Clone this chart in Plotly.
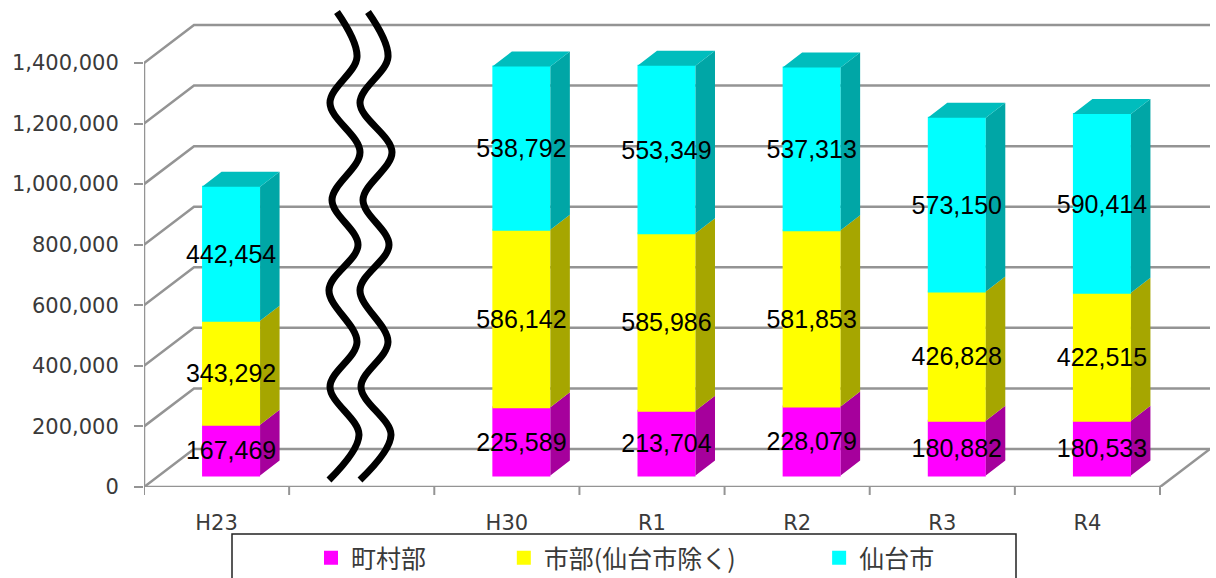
import plotly.graph_objects as go

categories = ["H23", "", "H30", "R1", "R2", "R3", "R4"]
towns = [167469, None, 225589, 213704, 228079, 180882, 180533]
cities = [343292, None, 586142, 585986, 581853, 426828, 422515]
sendai = [442454, None, 538792, 553349, 537313, 573150, 590414]
y_ticks = [0, 200000, 400000, 600000, 800000, 1000000, 1200000, 1400000]

series = [
    ("町村部" + "\u00a0" * 13, towns, "#FF00FF", "#A6009C"),
    ("市部(仙台市除く)" + "\u00a0" * 14, cities, "#FFFF00", "#A6A600"),
    ("仙台市", sendai, "#00FFFF", "#00A6A6"),
]

# wavy break marks (pixel positions)
wave_y = [12, 57, 103, 152, 200, 245, 290, 342, 387, 435, 480]
wave1_x = [337, 357, 330, 360, 332, 358, 329, 357, 330, 359, 329]
wave2_x = [368, 388, 360, 392, 363, 389, 360, 388, 361, 391, 360]

# the legend frame runs off the bottom of the picture, so the figure is a little taller than the window
W, H = 1216, 640
ML, MR, MT, MB = 144, 6, 5, 40
AXIS_PX = 487  # pixel row of the value axis zero
CAT_W = (1160 - 144) / 7
PX_Y = 1400000 / 424
PW, PH = W - ML - MR, H - MT - MB


def px_x(p):
    return -0.5 + (p - ML) / CAT_W


def px_y(p):
    return (AXIS_PX - p) * PX_Y


def paper_x(p):
    return (p - ML) / PW


def paper_y(p):
    return (H - MB - p) / PH


# depth geometry of the faux 3D look
WALL_DX, WALL_DY = 50 / CAT_W, 38 * PX_Y
BAR_DX, BAR_DY = 14.5 / CAT_W, 11.5 * PX_Y
SIDE_DX, SIDE_DY = 19.5 / CAT_W, 15 * PX_Y
BAR_W = 56 / CAT_W
LABEL_SHIFT = 3 * PX_Y
GRID = "#949494"
TEXT = "#3a3a3a"

fig = go.Figure()
idx = list(range(len(categories)))
bottoms = [BAR_DY if v is not None else None for v in towns]
labels_x, labels_y, labels_t = [], [], []
top_x, top_y = [], []

for name, vals, color, side in series:
    fig.add_trace(go.Bar(
        x=[i + BAR_DX for i in idx], y=vals, base=bottoms, width=BAR_W, name=name,
        marker=dict(color=color, line=dict(color=color, width=2)), hoverinfo="skip",
    ))
    sx, sy = [], []
    nxt = []
    for i, v, b in zip(idx, vals, bottoms):
        if v is None:
            nxt.append(None)
            continue
        r = i + BAR_DX + BAR_W / 2 + 1 / CAT_W
        sx += [r, r + SIDE_DX, r + SIDE_DX, r, r, None]
        sy += [b, b + SIDE_DY, b + v + SIDE_DY, b + v, b, None]
        labels_x.append(i + BAR_DX)
        labels_y.append(b + v / 2 - LABEL_SHIFT)
        labels_t.append(f"{v:,}")
        nxt.append(b + v)
    fig.add_trace(go.Scatter(
        x=sx, y=sy, mode="lines", fill="toself", fillcolor=side,
        line=dict(width=0, color=side), showlegend=False, hoverinfo="skip",
    ))
    bottoms = nxt

for i, b in zip(idx, bottoms):
    if b is None:
        continue
    l = i + BAR_DX - BAR_W / 2 - 1 / CAT_W
    r = i + BAR_DX + BAR_W / 2 + 1 / CAT_W
    top_x += [l, r, r + SIDE_DX, l + SIDE_DX, l, None]
    top_y += [b, b, b + SIDE_DY, b + SIDE_DY, b, None]
fig.add_trace(go.Scatter(
    x=top_x, y=top_y, mode="lines", fill="toself", fillcolor="#00BDBD",
    line=dict(width=0, color="#00BDBD"), showlegend=False, hoverinfo="skip",
))

for wx in (wave1_x, wave2_x):
    fig.add_trace(go.Scatter(
        x=[px_x(p) for p in wx], y=[px_y(p) for p in wave_y], mode="lines",
        line=dict(color="black", width=7, shape="spline", smoothing=1.0),
        showlegend=False, hoverinfo="skip",
    ))

fig.add_trace(go.Scatter(
    x=labels_x, y=labels_y, text=labels_t, mode="text",
    textfont=dict(family="Liberation Sans", size=25, color="black"),
    textposition="middle center", showlegend=False, hoverinfo="skip",
))

X0, X1 = -0.5, len(categories) - 0.5
shapes = []
for t in y_ticks:
    shapes.append(dict(
        type="path", layer="below", xref="x", yref="y",
        path=f"M{X0},{t} L{X0 + WALL_DX},{t + WALL_DY} L{X1 + WALL_DX},{t + WALL_DY}",
        line=dict(color=GRID, width=2.5),
    ))
shapes.append(dict(type="line", layer="below", xref="x", yref="y", x0=X0, x1=X0, y0=0,
                   y1=y_ticks[-1], line=dict(color=GRID, width=2.5)))
shapes.append(dict(type="line", layer="below", xref="x", yref="y", x0=X0, x1=X1, y0=0,
                   y1=0, line=dict(color=GRID, width=2.5)))
shapes.append(dict(type="line", layer="below", xref="x", yref="y", x0=X1, x1=X1 + WALL_DX,
                   y0=0, y1=WALL_DY, line=dict(color=GRID, width=2.5)))

# tick marks at the category boundaries
for k in range(len(categories) + 1):
    shapes.append(dict(type="line", layer="below", xref="x", yref="paper", x0=k - 0.5, x1=k - 0.5,
                       y0=paper_y(AXIS_PX), y1=paper_y(AXIS_PX + 8), line=dict(color=GRID, width=2)))

# legend frame
shapes.append(dict(type="rect", layer="below", xref="paper", yref="paper",
                   x0=paper_x(232), x1=paper_x(1016),
                   y0=paper_y(595), y1=paper_y(534),
                   fillcolor="white", line=dict(color="#222222", width=1.5)))

fig.update_layout(
    width=W, height=H, margin=dict(l=ML, r=MR, t=MT, b=MB),
    paper_bgcolor="white", plot_bgcolor="rgba(0,0,0,0)", barmode="overlay",
    shapes=shapes, showlegend=True,
    legend=dict(
        orientation="h", x=paper_x(311), xanchor="left",
        y=paper_y(535), yanchor="top", bgcolor="rgba(0,0,0,0)",
        font=dict(family="Noto Sans CJK JP", size=25, color=TEXT), traceorder="normal",
    ),
    xaxis=dict(
        range=[X0, X1 + WALL_DX], tickmode="array", tickvals=idx, ticktext=categories,
        showgrid=False, zeroline=False, showline=False, ticks="outside", ticklen=17,
        tickcolor="rgba(0,0,0,0)", tickfont=dict(family="DejaVu Sans", size=21, color=TEXT),
        anchor="y",
    ),
    yaxis=dict(
        domain=[paper_y(AXIS_PX), 1],
        range=[0, px_y(MT)], tickmode="array", tickvals=y_ticks, tickformat=",d",
        showgrid=False, zeroline=False, showline=False, ticks="outside", ticklen=9,
        tickwidth=2, tickcolor=GRID, ticklabelstandoff=11,
        tickfont=dict(family="DejaVu Sans", size=21, color=TEXT),
    ),
)

fig.write_html("out.html",
               post_script="document.body.style.margin='0';document.body.style.overflow='hidden';"
                           "document.documentElement.style.overflow='hidden';",
               config=dict(displayModeBar=False))
